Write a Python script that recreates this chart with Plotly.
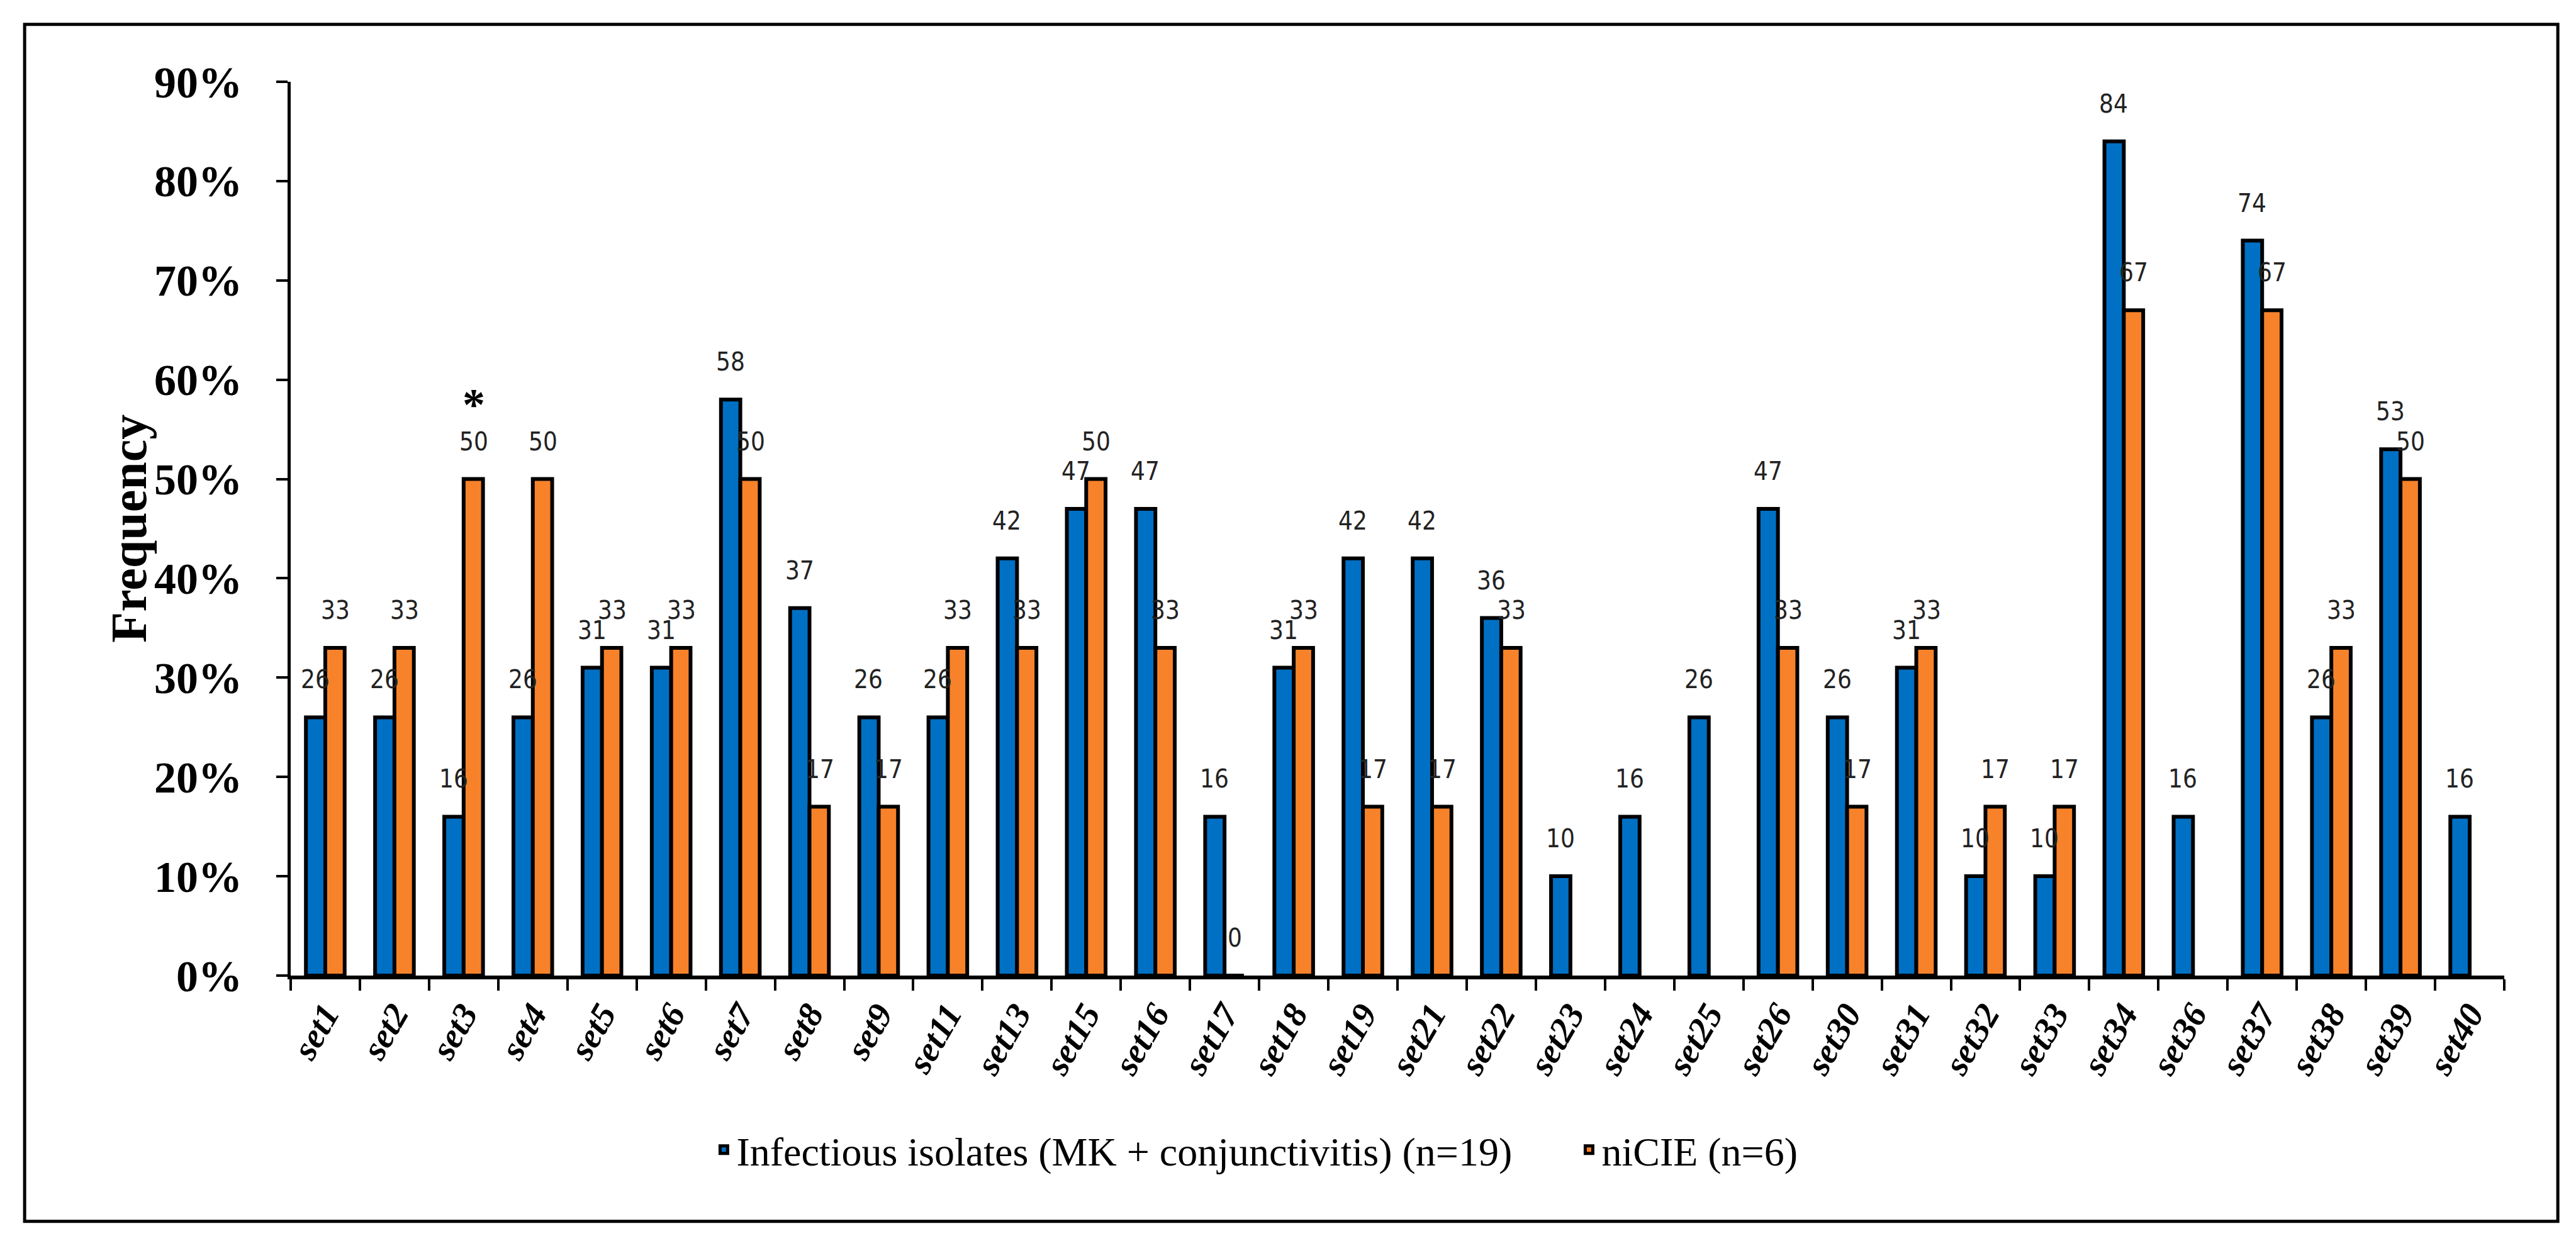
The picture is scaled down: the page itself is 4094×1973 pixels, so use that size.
import plotly.graph_objects as go

sets = ['set1', 'set2', 'set3', 'set4', 'set5', 'set6', 'set7', 'set8', 'set9', 'set11',
        'set13', 'set15', 'set16', 'set17', 'set18', 'set19', 'set21', 'set22', 'set23', 'set24',
        'set25', 'set26', 'set30', 'set31', 'set32', 'set33', 'set34', 'set36', 'set37', 'set38',
        'set39', 'set40']

infectious = [26, 26, 16, 26, 31, 31, 58, 37, 26, 26,
              42, 47, 47, 16, 31, 42, 42, 36, 10, 16,
              26, 47, 26, 31, 10, 10, 84, 16, 74, 26,
              53, 16]

niCIE = [33, 33, 50, 50, 33, 33, 50, 17, 17, 33,
         33, 50, 33, 0, 33, 17, 17, 33, None, None,
         None, 33, 17, 33, 17, 17, 67, None, 67, 33,
         50, None]

y_ticks = [0, 10, 20, 30, 40, 50, 60, 70, 80, 90]
y_labels = [f'{v}%' for v in y_ticks]

blue = '#0070C4'
orange = '#F7822A'
serif = 'Liberation Serif, Times New Roman, serif'
narrow = 'Liberation Sans Narrow, DejaVu Sans Condensed, Arial Narrow, sans-serif'

fig = go.Figure()
fig.add_trace(go.Bar(
    x=sets, y=infectious,
    name='Infectious isolates (MK + conjunctivitis) (n=19)',
    marker=dict(color=blue, line=dict(color='black', width=6))
))
fig.add_trace(go.Bar(
    x=sets, y=niCIE,
    name='niCIE (n=6)',
    marker=dict(color=orange, line=dict(color='black', width=6))
))

# value labels above the bars
for s, b, o in zip(sets, infectious, niCIE):
    fig.add_annotation(x=s, y=b, text=str(b), showarrow=False, xshift=-16, yshift=60,
                       font=dict(family=narrow, size=40, color='#222222'))
    if o is not None:
        fig.add_annotation(x=s, y=o, text=str(o), showarrow=False, xshift=16, yshift=60,
                           font=dict(family=narrow, size=40, color='#222222'))

# significance mark on set3
fig.add_annotation(x='set3', y=57.5, text='*', showarrow=False, xshift=16,
                   font=dict(family=serif, size=72, color='black', weight='bold'))

# y axis title
fig.add_annotation(xref='paper', yref='paper', x=-0.0733, y=0.5, text='Frequency',
                   textangle=-90, showarrow=False, xanchor='center', yanchor='middle',
                   font=dict(family=serif, size=80, color='black', weight='bold'))

# frame around the whole figure
fig.add_shape(type='rect', xref='paper', yref='paper',
              x0=-0.1202, x1=1.0242, y0=-0.2749, y1=1.0643,
              line=dict(color='black', width=5))

fig.update_layout(
    width=4094,
    height=1973,
    margin=dict(l=454, r=122, t=122, b=430),
    plot_bgcolor='white',
    paper_bgcolor='white',
    barmode='group',
    bargap=0.44,
    bargroupgap=0,
    showlegend=True,
    legend=dict(orientation='h', x=0.19, xanchor='left', y=-0.195, yanchor='middle',
                font=dict(family=serif, size=64, color='black'),
                entrywidth=1330, traceorder='normal'),
    xaxis=dict(
        showline=True, linecolor='black', linewidth=6,
        ticks='outside', tickson='boundaries', ticklen=18, tickwidth=4, tickcolor='black',
        tickangle=-60,
        tickfont=dict(family=serif, size=56, color='black', weight='bold', style='italic'),
        showgrid=False
    ),
    yaxis=dict(
        range=[0, 90], tickmode='array', tickvals=y_ticks, ticktext=y_labels,
        showline=True, linecolor='black', linewidth=5,
        ticks='outside', ticklen=18, tickwidth=4, tickcolor='black',
        ticklabelstandoff=40,
        tickfont=dict(family=serif, size=70, color='black', weight='bold'),
        showgrid=False, zeroline=False
    )
)

fig.write_html('out.html')
